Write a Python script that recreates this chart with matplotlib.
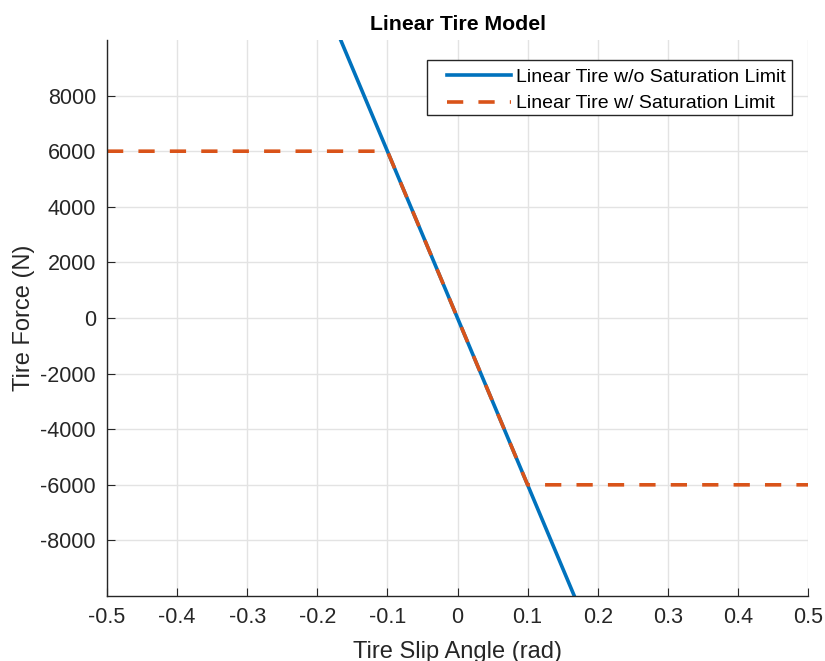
import numpy as np
import matplotlib.pyplot as plt
from matplotlib.patches import Rectangle

plt.rcParams['font.family'] = ['Liberation Sans', 'DejaVu Sans']
plt.rcParams['axes.unicode_minus'] = False

# tire model data
slip_angle = np.array([-0.5, -0.1, 0.1, 0.5])
linear_force = np.array([30000, 6000, -6000, -30000])
sat_force = np.array([6000, 6000, -6000, -6000])

fig = plt.figure(figsize=(8.25, 6.61), dpi=100)
ax = fig.add_axes([0.1297, 0.0983, 0.8497, 0.8412])

ax.plot(slip_angle, linear_force, color='#0072BD', linewidth=2.6,
        label='Linear Tire w/o Saturation Limit')
ax.plot(slip_angle, sat_force, color='#D95319', linewidth=2.6,
        linestyle=(0, (4.5, 4.2)), label='Linear Tire w/ Saturation Limit')

ax.set_xlim(-0.5, 0.5)
ax.set_ylim(-10000, 10000)
ax.set_xticks(np.arange(-0.5, 0.51, 0.1))
ax.set_xticklabels(['-0.5', '-0.4', '-0.3', '-0.2', '-0.1', '0',
                    '0.1', '0.2', '0.3', '0.4', '0.5'])
ax.set_yticks(np.arange(-8000, 8001, 2000))

ax.grid(True, color='#e3e3e3', linewidth=1)
ax.set_axisbelow(True)
ax.spines['top'].set_visible(False)
ax.spines['right'].set_visible(False)
for s in ['left', 'bottom']:
    ax.spines[s].set_color('#262626')
    ax.spines[s].set_linewidth(1)
ax.tick_params(direction='in', length=6, labelsize=15.5, colors='#262626',
               pad=8)

ax.set_xlabel('Tire Slip Angle (rad)', fontsize=17, color='#262626',
              labelpad=9)
ax.set_ylabel('Tire Force (N)', fontsize=17, color='#262626', labelpad=4)
ax.set_title('Linear Tire Model', fontsize=15.3, fontweight='bold', pad=7)

# legend box drawn separately so it has MATLAB-like padding
ax.add_patch(Rectangle((0.4565, 0.865), 0.5205, 0.099, transform=ax.transAxes,
                       facecolor='white', edgecolor='#262626', linewidth=1,
                       zorder=4))
leg = ax.legend(loc='upper left', bbox_to_anchor=(0.485, 0.949),
                borderaxespad=0, borderpad=0, fontsize=14, frameon=False,
                handlelength=3.3, labelspacing=0.45, handletextpad=0.25)
leg.set_zorder(5)

plt.savefig('out.png', dpi=100)
